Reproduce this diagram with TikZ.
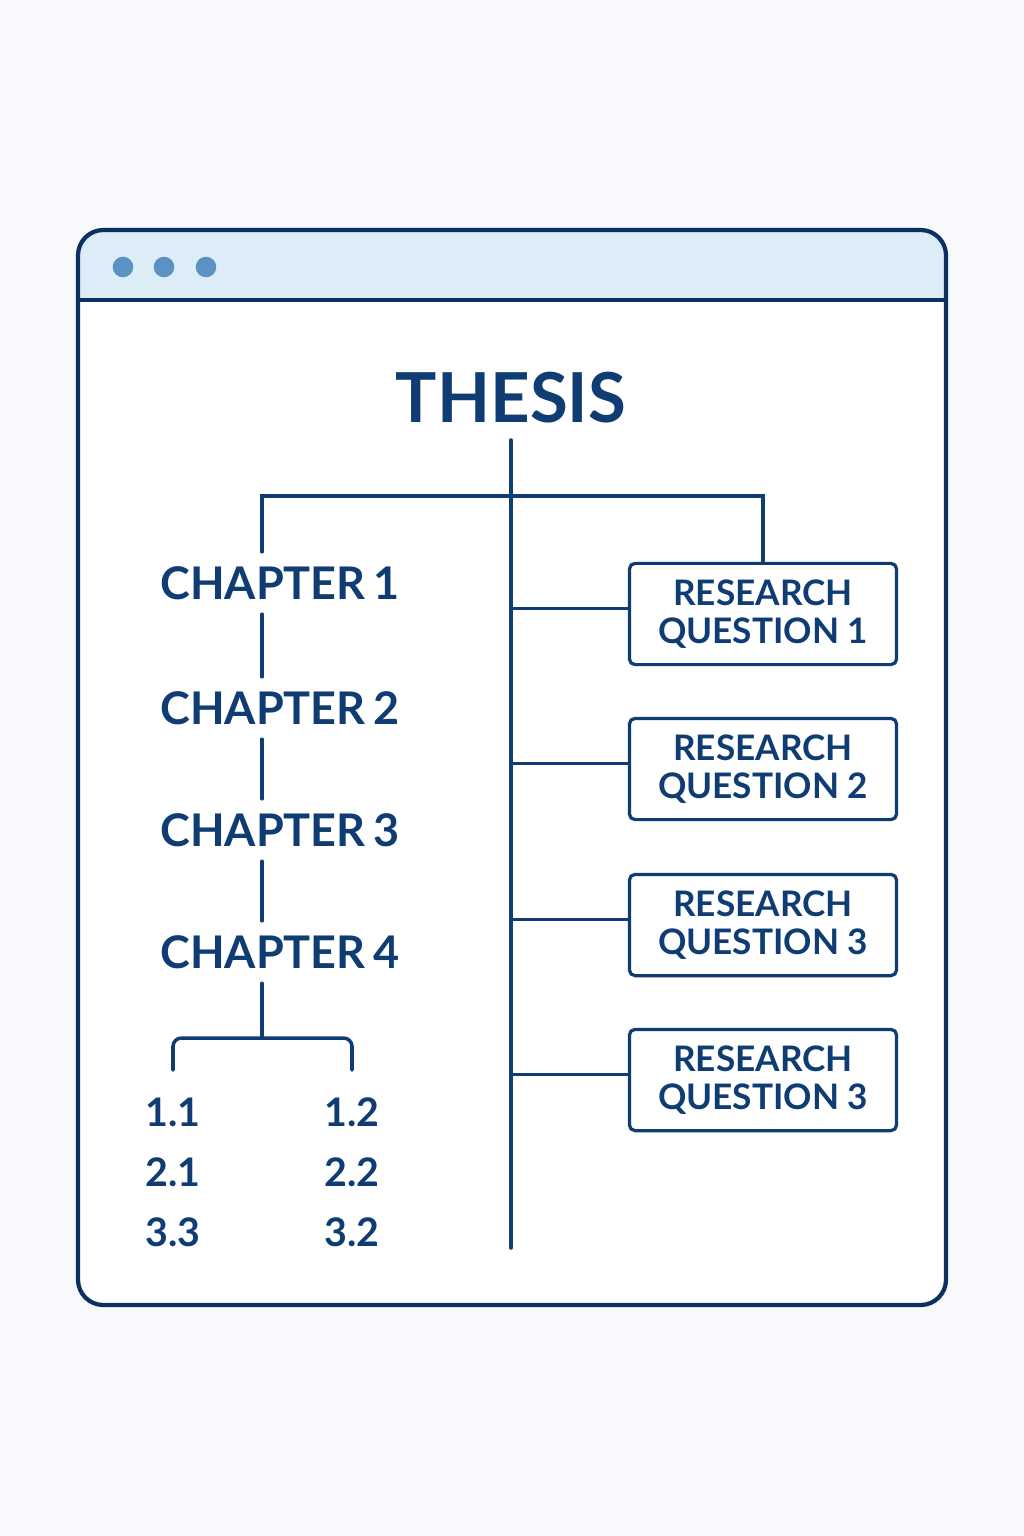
\documentclass[tikz,border=0pt]{standalone}
\usepackage{fontspec}
\setmainfont{Lato}
\usetikzlibrary{positioning}

\definecolor{navy}{HTML}{0F3D73}
\definecolor{frame}{HTML}{0D2F62}
\definecolor{bar}{HTML}{DDEDF8}
\definecolor{dot}{HTML}{5A92C3}
\definecolor{paper}{HTML}{F7F9FC}

\tikzset{
    link/.style={draw=navy, line width=2.5pt, line cap=round},
    chap/.style={anchor=west, text=navy, inner xsep=0pt, inner ysep=10pt,
        font=\fontsize{32}{32}\selectfont\bfseries, text height=24pt, text depth=0pt},
    rq/.style={draw=navy, line width=2.3pt, rounded corners=4pt, fill=white, text=navy,
        align=center, minimum width=190pt, minimum height=72pt, inner sep=0pt,
        font=\fontsize{25}{27}\selectfont\bfseries},
    sub/.style={text=navy, inner sep=0pt, font=\fontsize{28}{28}\selectfont\bfseries}
}

\begin{document}
\begin{tikzpicture}[x=0.025cm, y=-0.025cm]
    \useasboundingbox (0,0) rectangle (1024,1536);
    \fill[paper] (0,0) rectangle (1024,1536);

    % Window
    \fill[white, rounded corners=18pt] (78,230) rectangle (946,1305);
    \begin{scope}
        \clip[rounded corners=18pt] (78,230) rectangle (946,1305);
        \fill[bar] (78,230) rectangle (946,300);
    \end{scope}
    \draw[frame, line width=3pt] (78,300) -- (946,300);
    \draw[frame, line width=3pt, rounded corners=18pt] (78,230) rectangle (946,1305);
    \foreach \x in {123,164,206}
        \fill[dot] (\x,267) circle (7.3pt);

    % Title and trunk
    \node[text=navy, inner sep=0pt, font=\fontsize{49}{49}\selectfont\bfseries] (thesis) at (511,398) {THESIS};
    \coordinate (top) at (511,440);
    \coordinate (bot) at (511,1248);
    \coordinate (bar) at (511,496);
    \coordinate (spine) at (262,496);
    \draw[link] (top) -- (bot);

    % Chapters
    \node[chap] (c1) at (160,583) {CHAPTER\hspace{0.18em}1};
    \node[chap] (c2) at (160,708) {CHAPTER\hspace{0.18em}2};
    \node[chap] (c3) at (160,830) {CHAPTER\hspace{0.18em}3};
    \node[chap] (c4) at (160,952) {CHAPTER\hspace{0.18em}4};
    \draw[link] (c1.south -| spine) -- (c2.north -| spine);
    \draw[link] (c2.south -| spine) -- (c3.north -| spine);
    \draw[link] (c3.south -| spine) -- (c4.north -| spine);

    % Research questions
    \node[rq] (rq1) at (763,614)  {RESEARCH\\QUESTION 1};
    \node[rq] (rq2) at (763,769)  {RESEARCH\\QUESTION 2};
    \node[rq] (rq3) at (763,925)  {RESEARCH\\QUESTION 3};
    \node[rq] (rq4) at (763,1080) {RESEARCH\\QUESTION 3};
    \draw[link] (c1.north -| spine) -- (spine) -- (rq1.north |- bar) -- (rq1.north);
    \foreach \q in {rq1,rq2,rq3,rq4}
        \draw[link] ([yshift=4pt]\q.west -| top) -- ([yshift=4pt]\q.west);

    % Sections
    \coordinate (fork) at (262,1038);
    \coordinate (fl) at (173,1070);
    \coordinate (fr) at (352,1070);
    \draw[link] (c4.south -| spine) -- (fork);
    \draw[link, rounded corners=6pt] (fl) |- (fork) -| (fr);
    \node[sub] (s11) at (173,1112) {1.1};
    \node[sub] (s12) at (352,1112) {1.2};
    \node[sub] (s21) at (173,1172) {2.1};
    \node[sub] (s22) at (352,1172) {2.2};
    \node[sub] (s33) at (173,1232) {3.3};
    \node[sub] (s32) at (352,1232) {3.2};
\end{tikzpicture}
\end{document}
